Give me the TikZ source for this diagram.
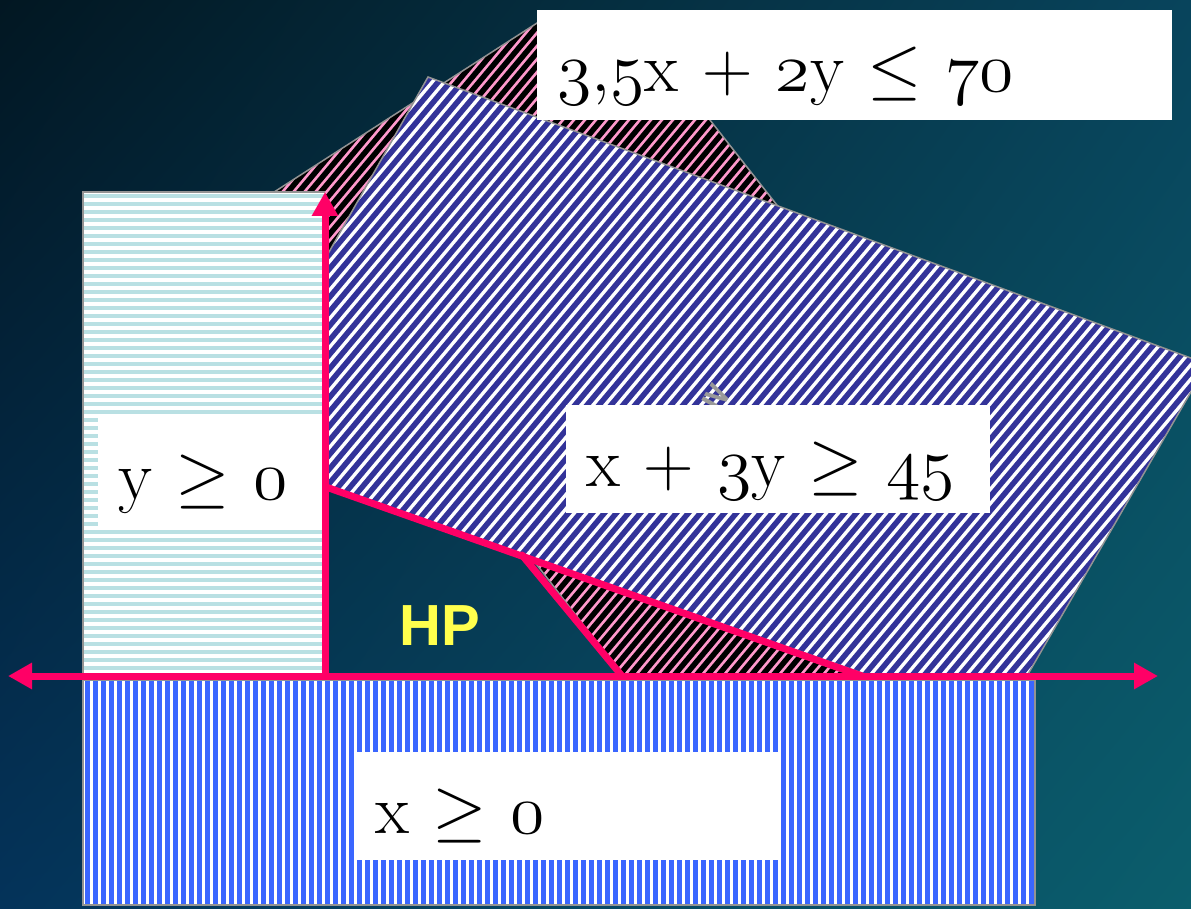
\RequirePackage{fix-cm}
\documentclass[tikz,border=0pt]{standalone}
\usepackage{fontspec}
\newfontfamily\hpfont{Liberation Sans}
\newfontfamily\djv{DejaVu Sans}
\usetikzlibrary{arrows.meta,shadings}
\definecolor{bgUL}{HTML}{021722}
\definecolor{bgUR}{HTML}{08445C}
\definecolor{bgLL}{HTML}{04335A}
\definecolor{bgLR}{HTML}{0B5E6C}
\definecolor{hpred}{HTML}{FF0066}
\definecolor{pinkS}{HTML}{FF99CC}
\definecolor{navyS}{HTML}{333399}
\definecolor{lbS}{HTML}{B9E0E3}
\definecolor{blS}{HTML}{3A66FF}
\definecolor{hpyel}{HTML}{FFFF4D}
\newcommand{\osn}[1]{$\mathnormal{#1}$}
\tikzset{
  outl/.style={draw=gray!85, line width=1.5pt},
  redln/.style={draw=hpred, line width=7pt},
  arr/.style={-{Triangle[length=24pt,width=25pt]}},
  lbl/.style={fill=white, anchor=north west, inner xsep=20pt, inner ysep=0pt,
     text height=81pt, align=left, font=\fontsize{70}{76}\selectfont, text=black},
}
\begin{document}
\begin{tikzpicture}[x=1pt,y=-1pt]
\useasboundingbox (0,0) rectangle (1191,909);
% background
\shade[upper left=bgUL, upper right=bgUR, lower left=bgLL, lower right=bgLR] (0,0) rectangle (1191,909);
% pink / black polygon  (3,5x + 2y <= 70)
\begin{scope}
  \clip (257,203)--(548,16)--(628,16)--(962,440)--(900,760)--(688,760)--cycle;
  \fill[pinkS] (0,0) rectangle (1191,909);
  \foreach \t in {-820,-809,...,1220} \draw[black, line width=5.5pt] (\t,909)--++(800,-953);
\end{scope}
\draw[outl] (257,203)--(548,16)--(628,16)--(962,440)--(900,760)--(688,760)--cycle;
% navy / white polygon (x + 3y >= 45)
\begin{scope}
  \clip (428,77)--(1207,364)--(1001,721)--(217,450)--cycle;
  \fill[white] (0,0) rectangle (1191,909);
  \foreach \t in {-820,-808,...,1220} \draw[navyS, line width=5.5pt] (\t,909)--++(800,-953);
\end{scope}
\draw[outl] (428,77)--(1207,364)--(1001,721)--(217,450)--cycle;
\node[text=gray!80, rotate=-30, inner sep=0pt, font=\djv\bfseries\fontsize{36}{40}\selectfont] (ge) at (717,397) {≥};
% light blue rectangle (y >= 0)
\begin{scope}
  \clip (83,192) rectangle (325,676);
  \fill[white] (83,192) rectangle (325,676);
  \foreach \y in {196,204,...,676} \draw[lbS, line width=4pt] (83,\y)--(325,\y);
\end{scope}
\draw[outl] (325,192)--(83,192)--(83,676);
% blue rectangle (x >= 0)
\begin{scope}
  \clip (83,680) rectangle (1035,905);
  \fill[white] (83,680) rectangle (1035,905);
  \foreach \x in {87,95,...,1035} \draw[blS, line width=5pt] (\x,680)--(\x,905);
\end{scope}
\draw[outl] (83,680) rectangle (1035,905);
% labels
\node[lbl, text width=595pt, text depth=29pt] (l1) at (537,10) {\osn{3{,}5}x + \osn{2}y $\leq$ \osn{70}};
\node[lbl, text width=384pt, text depth=27pt] (l2) at (566,405) {x + \osn{3}y $\geq$ \osn{45}};
\node[lbl, text width=187pt, text depth=29pt] (l3) at (98,418) {y $\geq$ \osn{0}};
\node[lbl, text width=383pt, text depth=27pt] (l4) at (355,752) {x $\geq$ \osn{0}};
% red lines
\coordinate (axL) at (8,676);
\coordinate (axR) at (1158,676);
\coordinate (O) at (325,676);
\coordinate (yT) at (325,192);
\coordinate (p1) at (326,487);
\coordinate (p2) at (862,676);
\coordinate (q1) at (522,555);
\coordinate (q2) at (622,676);
\draw[redln] (p1)--(p2);
\draw[redln, line cap=round] (q1)--(q2);
\draw[redln, {Triangle[length=24pt,width=25pt]}-{Triangle[length=24pt,width=25pt]}] (axL)--(axR);
\draw[redln, arr] (O)--(yT);
% HP
\node[text=hpyel, anchor=base, inner sep=0pt, font=\hpfont\bfseries\fontsize{58}{62}\selectfont] (hp) at (440,645) {HP};
\end{tikzpicture}
\end{document}
